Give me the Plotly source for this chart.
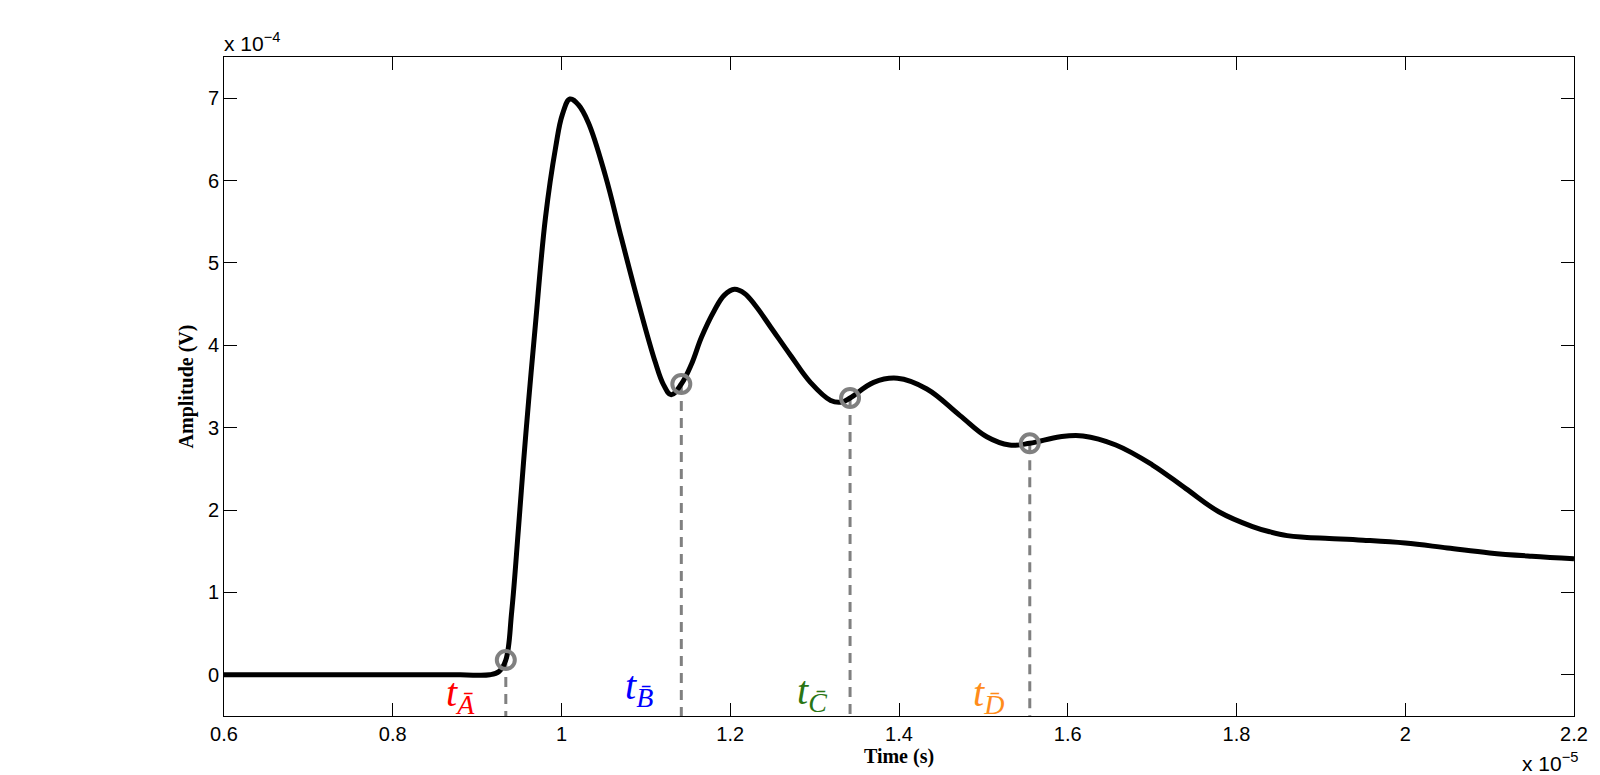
import plotly.graph_objects as go

# time in units of 1e-5 s, amplitude in units of 1e-4 V
time_e5 = [0.6, 0.7, 0.8, 0.88, 0.915, 0.926, 0.934, 0.941, 0.949, 0.955,
           0.961, 0.969, 0.981, 0.993, 1.001, 1.010, 1.020, 1.032, 1.052, 1.071,
           1.091, 1.111, 1.121, 1.130, 1.142, 1.154, 1.166, 1.181, 1.193, 1.205,
           1.217, 1.230, 1.248, 1.272, 1.295, 1.319, 1.332, 1.342, 1.370, 1.398,
           1.433, 1.472, 1.504, 1.531, 1.555, 1.591, 1.618, 1.657, 1.700, 1.740,
           1.779, 1.819, 1.840, 1.860, 1.880, 1.910, 1.950, 2.000, 2.050, 2.100,
           2.150, 2.2]
amp_e4 = [0.0, 0.0, 0.0, 0.0, 0.0, 0.04, 0.18, 0.77, 1.78, 2.58,
          3.32, 4.24, 5.55, 6.40, 6.80, 6.99, 6.92, 6.70, 6.06, 5.30,
          4.52, 3.80, 3.52, 3.40, 3.53, 3.77, 4.10, 4.42, 4.61, 4.68,
          4.63, 4.48, 4.22, 3.87, 3.55, 3.33, 3.31, 3.36, 3.55, 3.60,
          3.47, 3.15, 2.89, 2.79, 2.81, 2.89, 2.90, 2.79, 2.55, 2.26,
          1.98, 1.80, 1.735, 1.69, 1.67, 1.655, 1.635, 1.60, 1.54, 1.48,
          1.44, 1.41]

# picked instants
pick_t = [0.934, 1.142, 1.342, 1.555]
pick_a = [0.18, 3.53, 3.36, 2.81]
pick_names = ["A", "B", "C", "D"]
pick_colors = ["#ff0000", "#0000ff", "#2a7514", "#ff8c1a"]
label_x = [0.880, 1.092, 1.297, 1.506]
label_y = [-0.25, -0.16, -0.22, -0.24]

Y_MIN = -0.5

fig = go.Figure()

for t, a in zip(pick_t, pick_a):
    fig.add_trace(go.Scatter(
        x=[t, t], y=[a, Y_MIN], mode='lines',
        line=dict(color='#808080', width=3, dash='10px,7px'),
        showlegend=False, hoverinfo='skip',
    ))

fig.add_trace(go.Scatter(
    x=time_e5, y=amp_e4, mode='lines',
    line=dict(color='black', width=5, shape='spline', smoothing=1.1, simplify=False),
    showlegend=False,
))

fig.add_trace(go.Scatter(
    x=pick_t, y=pick_a, mode='markers',
    marker=dict(symbol='circle-open', size=18, color='#808080',
                line=dict(color='#808080', width=4)),
    showlegend=False,
))

macron = "\u0304"
for name, col, lx, ly in zip(pick_names, pick_colors, label_x, label_y):
    sub = "Ā" if name == "A" else name + macron
    fig.add_annotation(
        x=lx, y=ly, xref='x', yref='y', showarrow=False,
        text="<i>t</i><sub><i>" + sub + "</i></sub>",
        font=dict(family="Liberation Serif, serif", size=40, color=col),
    )

fig.add_annotation(
    x=0, y=1, xref='paper', yref='paper', xanchor='left', yanchor='bottom',
    showarrow=False, yshift=0, xshift=-2,
    text="x 10<sup>\u22124</sup>",
    font=dict(family="Liberation Sans, Arial, sans-serif", size=21, color='black'),
)
fig.add_annotation(
    x=1, y=0, xref='paper', yref='paper', xanchor='right', yanchor='top',
    showarrow=False, yshift=-31, xshift=6,
    text="x 10<sup>\u22125</sup>",
    font=dict(family="Liberation Sans, Arial, sans-serif", size=21, color='black'),
)

axis_common = dict(
    showline=True, linecolor='black', linewidth=1, mirror='ticks',
    ticks='inside', ticklen=13, tickcolor='black', tickwidth=1,
    showgrid=False, zeroline=False,
    tickfont=dict(family="Liberation Sans, Arial, sans-serif", size=20, color='black'),
)

# the page body adds an 8px offset, so the figure is 8px smaller on each axis
fig.update_layout(
    width=1592, height=767,
    margin=dict(l=216, r=20, t=49, b=57),
    paper_bgcolor='white', plot_bgcolor='white',
    xaxis=dict(range=[0.6, 2.2], tickvals=[0.6, 0.8, 1, 1.2, 1.4, 1.6, 1.8, 2, 2.2],
               ticktext=["0.6", "0.8", "1", "1.2", "1.4", "1.6", "1.8", "2", "2.2"],
               title=dict(text="<b>Time (s)</b>", standoff=4,
                          font=dict(family="Liberation Serif, serif", size=20, color='black')),
               **axis_common),
    yaxis=dict(range=[Y_MIN, 7.5], tickvals=[0, 1, 2, 3, 4, 5, 6, 7],
               title=dict(text="<b>Amplitude (V)</b>", standoff=8,
                          font=dict(family="Liberation Serif, serif", size=20, color='black')),
               **axis_common),
)

fig.write_html("out.html")
